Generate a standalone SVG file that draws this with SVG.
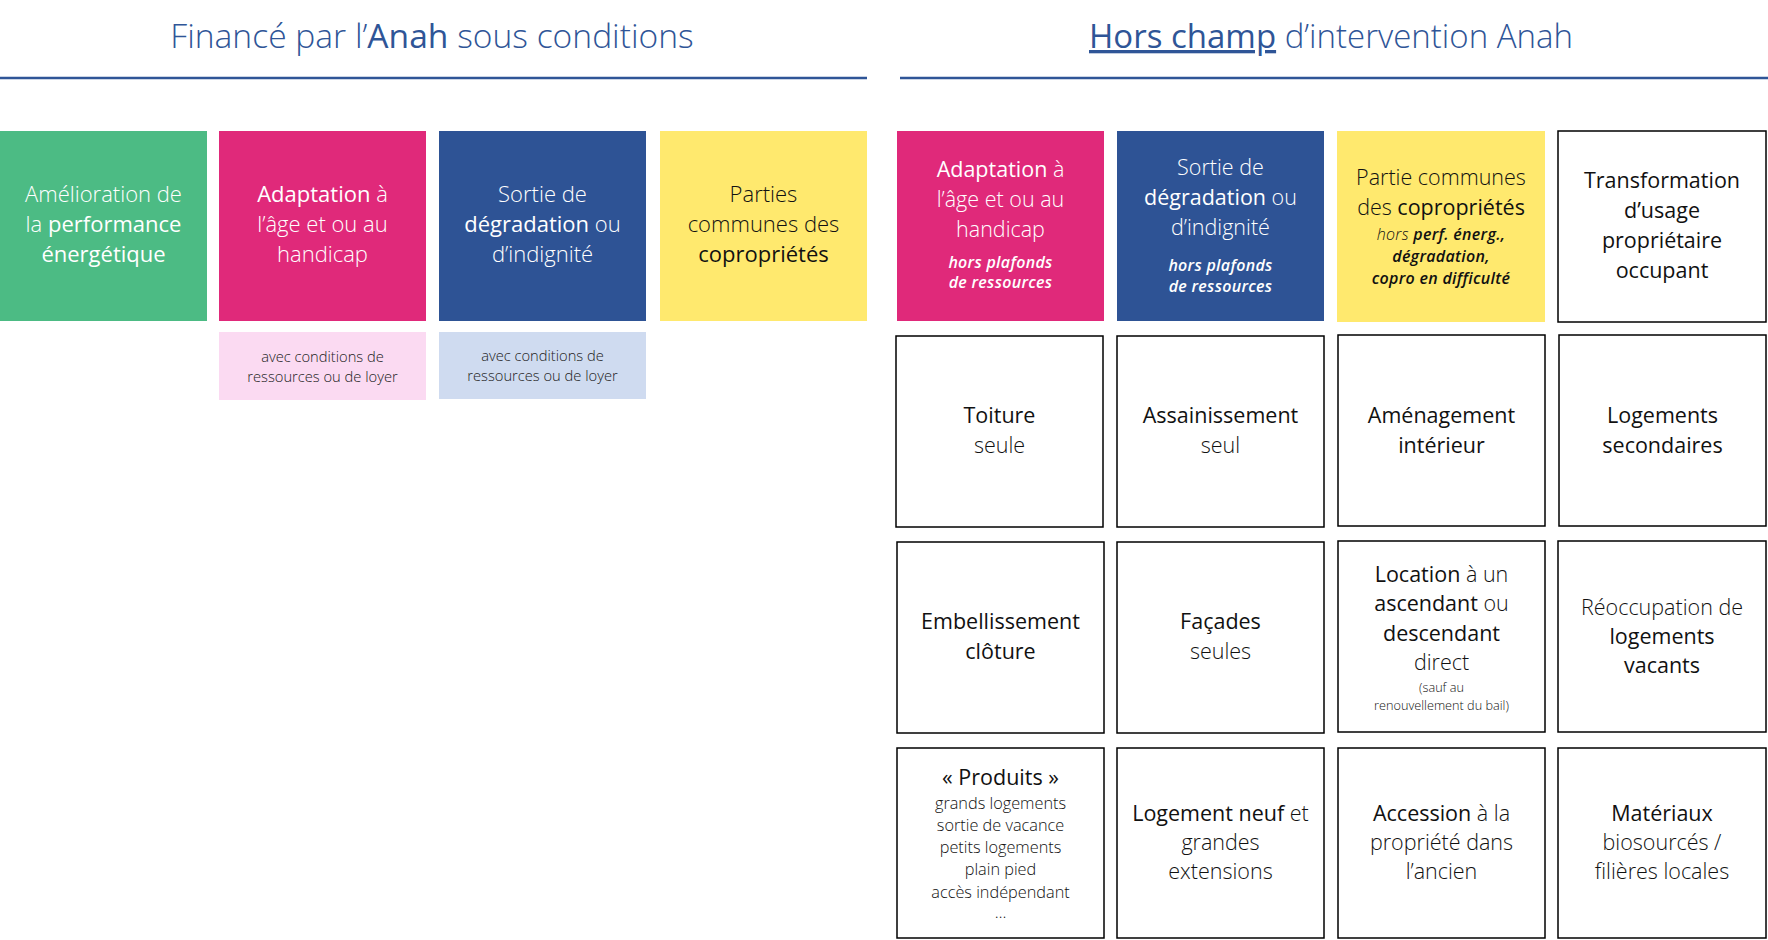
<svg xmlns="http://www.w3.org/2000/svg" width="1768" height="940" viewBox="0 0 1768 940">
<style>
text{font-family:"Open Sans",Lato,"Liberation Sans",sans-serif;text-anchor:middle;font-weight:300}
.b{font-weight:500}
.h{font-size:33px;fill:#2F5597}
.hL{font-size:33.6px}
.m{font-size:22px}
.r{font-size:21.5px}
.s{font-size:14.7px;fill:#222}
.i{font-size:16px;font-style:italic;font-weight:600;letter-spacing:0.3px}
.il{font-weight:300}
.p{font-size:16.3px}
.x{font-size:12.7px}
.w{fill:#fff}
.k{fill:#111}
.box{fill:#fff;stroke:#000;stroke-width:1.5}
.hl{stroke:#2F5597;stroke-width:2.5}
</style>
<g id="header-left">
<text class="h hL" x="432" y="48">Financé par l’<tspan class="b">Anah</tspan> sous conditions</text>
<line class="hl" x1="0" y1="78" x2="867" y2="78"/>
</g>
<g id="header-right">
<text class="h" x="1331" y="48"><tspan class="b" text-decoration="underline">Hors champ</tspan> d’intervention Anah</text>
<line class="hl" x1="900" y1="78" x2="1768" y2="78"/>
</g>
<g id="n-amelioration">
<rect x="0" y="131" width="207" height="190" fill="#4CBB84"/>
<text class="m w" x="103.5" y="202">Amélioration de</text>
<text class="m w" x="103.5" y="232">la <tspan class="b">performance</tspan></text>
<text class="m w b" x="103.5" y="262">énergétique</text>
</g>
<g id="n-adaptation">
<rect x="219" y="131" width="207" height="190" fill="#E0297A"/>
<text class="m w" x="322.5" y="202"><tspan class="b">Adaptation</tspan> à</text>
<text class="m w" x="322.5" y="232">l’âge et ou au</text>
<text class="m w" x="322.5" y="262">handicap</text>
</g>
<g id="n-sortie">
<rect x="439" y="131" width="207" height="190" fill="#2E5395"/>
<text class="m w" x="542.5" y="202">Sortie de</text>
<text class="m w" x="542.5" y="232"><tspan class="b">dégradation</tspan> ou</text>
<text class="m w" x="542.5" y="262">d’indignité</text>
</g>
<g id="n-parties">
<rect x="660" y="131" width="207" height="190" fill="#FFE96E"/>
<text class="m k" x="763.5" y="202">Parties</text>
<text class="m k" x="763.5" y="232">communes des</text>
<text class="m k b" x="763.5" y="262">copropriétés</text>
</g>
<g id="n-cond-adaptation">
<rect x="219" y="332" width="207" height="68" fill="#FBDAF2"/>
<text class="s" x="322.5" y="362">avec conditions de</text>
<text class="s" x="322.5" y="382">ressources ou de loyer</text>
</g>
<g id="n-cond-sortie">
<rect x="439" y="332" width="207" height="67" fill="#CFDBF0"/>
<text class="s" x="542.5" y="361">avec conditions de</text>
<text class="s" x="542.5" y="381">ressources ou de loyer</text>
</g>
<g id="n-hc-adaptation">
<rect x="897" y="131" width="207" height="190" fill="#E0297A"/>
<text class="r w" x="1000.5" y="177"><tspan class="b">Adaptation</tspan> à</text>
<text class="r w" x="1000.5" y="207">l’âge et ou au</text>
<text class="r w" x="1000.5" y="237">handicap</text>
<text class="i w" x="1000.5" y="268">hors plafonds</text>
<text class="i w" x="1000.5" y="288">de ressources</text>
</g>
<g id="n-hc-sortie">
<rect x="1117" y="131" width="207" height="190" fill="#2E5395"/>
<text class="r w" x="1220.5" y="175">Sortie de</text>
<text class="r w" x="1220.5" y="205"><tspan class="b">dégradation</tspan> ou</text>
<text class="r w" x="1220.5" y="235">d’indignité</text>
<text class="i w" x="1220.5" y="271">hors plafonds</text>
<text class="i w" x="1220.5" y="292">de ressources</text>
</g>
<g id="n-hc-parties">
<rect x="1337" y="131" width="208" height="191" fill="#FFE96E"/>
<text class="r k" x="1441" y="185">Partie communes</text>
<text class="r k" x="1441" y="215">des <tspan class="b">copropriétés</tspan></text>
<text class="i k" x="1441" y="240"><tspan class="il">hors</tspan> perf. énerg.,</text>
<text class="i k" x="1441" y="262">dégradation,</text>
<text class="i k" x="1441" y="284">copro en difficulté</text>
</g>
<g id="n-transformation">
<rect class="box" x="1558" y="131" width="208" height="191"/>
<text class="r k b" x="1662" y="188">Transformation</text>
<text class="r k b" x="1662" y="218">d’usage</text>
<text class="r k b" x="1662" y="248">propriétaire</text>
<text class="r k b" x="1662" y="278">occupant</text>
</g>
<g id="n-toiture">
<rect class="box" x="896" y="336" width="207" height="191"/>
<text class="r k b" x="999.5" y="423">Toiture</text>
<text class="r k" x="999.5" y="453">seule</text>
</g>
<g id="n-assainissement">
<rect class="box" x="1117" y="336" width="207" height="191"/>
<text class="r k b" x="1220.5" y="423">Assainissement</text>
<text class="r k" x="1220.5" y="453">seul</text>
</g>
<g id="n-amenagement">
<rect class="box" x="1338" y="335" width="207" height="191"/>
<text class="r k b" x="1441.5" y="423">Aménagement</text>
<text class="r k b" x="1441.5" y="453">intérieur</text>
</g>
<g id="n-logements-secondaires">
<rect class="box" x="1559" y="335" width="207" height="191"/>
<text class="r k b" x="1662.5" y="423">Logements</text>
<text class="r k b" x="1662.5" y="453">secondaires</text>
</g>
<g id="n-embellissement">
<rect class="box" x="897" y="542" width="207" height="191"/>
<text class="r k b" x="1000.5" y="629">Embellissement</text>
<text class="r k b" x="1000.5" y="659">clôture</text>
</g>
<g id="n-facades">
<rect class="box" x="1117" y="542" width="207" height="191"/>
<text class="r k b" x="1220.5" y="629">Façades</text>
<text class="r k" x="1220.5" y="659">seules</text>
</g>
<g id="n-location">
<rect class="box" x="1338" y="541" width="207" height="191"/>
<text class="r k" x="1441.5" y="582"><tspan class="b">Location</tspan> à un</text>
<text class="r k" x="1441.5" y="611"><tspan class="b">ascendant</tspan> ou</text>
<text class="r k b" x="1441.5" y="641">descendant</text>
<text class="r k" x="1441.5" y="670">direct</text>
<text class="x k" x="1441.5" y="692">(sauf au</text>
<text class="x k" x="1441.5" y="710">renouvellement du bail)</text>
</g>
<g id="n-reoccupation">
<rect class="box" x="1558" y="541" width="208" height="191"/>
<text class="r k" x="1662" y="615">Réoccupation de</text>
<text class="r k b" x="1662" y="644">logements</text>
<text class="r k b" x="1662" y="673">vacants</text>
</g>
<g id="n-produits">
<rect class="box" x="897" y="748" width="207" height="190"/>
<text class="r k b" x="1000.5" y="785">« Produits »</text>
<text class="p k" x="1000.5" y="809">grands logements</text>
<text class="p k" x="1000.5" y="831">sortie de vacance</text>
<text class="p k" x="1000.5" y="853">petits logements</text>
<text class="p k" x="1000.5" y="875">plain pied</text>
<text class="p k" x="1000.5" y="898">accès indépendant</text>
<text class="p k" x="1000.5" y="918">…</text>
</g>
<g id="n-logement-neuf">
<rect class="box" x="1117" y="748" width="207" height="190"/>
<text class="r k" x="1220.5" y="821"><tspan class="b">Logement neuf</tspan> et</text>
<text class="r k" x="1220.5" y="850">grandes</text>
<text class="r k" x="1220.5" y="879">extensions</text>
</g>
<g id="n-accession">
<rect class="box" x="1338" y="748" width="207" height="190"/>
<text class="r k" x="1441.5" y="821"><tspan class="b">Accession</tspan> à la</text>
<text class="r k" x="1441.5" y="850">propriété dans</text>
<text class="r k" x="1441.5" y="879">l’ancien</text>
</g>
<g id="n-materiaux">
<rect class="box" x="1558" y="748" width="208" height="190"/>
<text class="r k b" x="1662" y="821">Matériaux</text>
<text class="r k" x="1662" y="850">biosourcés /</text>
<text class="r k" x="1662" y="879">filières locales</text>
</g>
</svg>
